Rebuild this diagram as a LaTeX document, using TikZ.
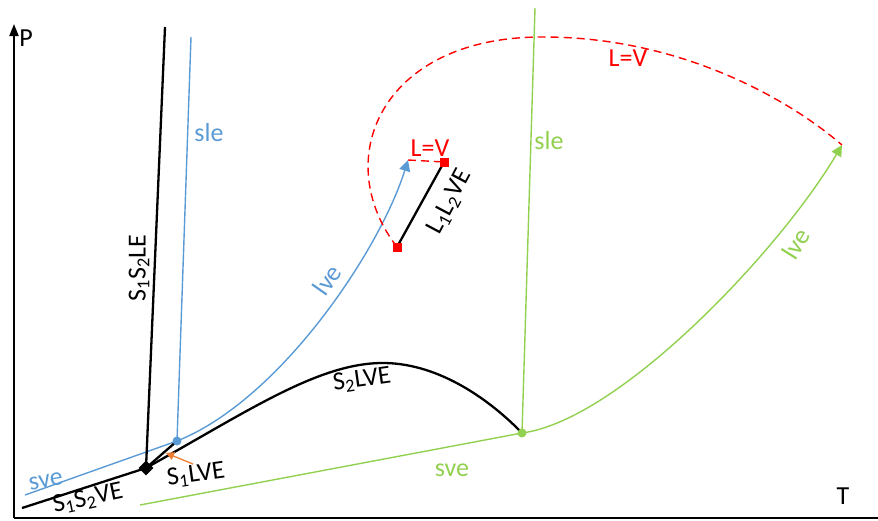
\documentclass[tikz,border=0pt]{standalone}
\usepackage{fontspec}
\setmainfont{Carlito}
\usetikzlibrary{arrows.meta,shapes.geometric}
\definecolor{cblue}{HTML}{5B9BD5}
\definecolor{cgreen}{HTML}{92D050}
\definecolor{cred}{HTML}{FF0000}
\definecolor{corange}{HTML}{ED7D31}
\newcommand{\sbs}[1]{\textsubscript{#1}}
\begin{document}
\begin{tikzpicture}[x=1pt,y=-1pt,
  lbl/.style={font=\fontsize{26}{30}\selectfont, inner sep=1pt},
  blk/.style={black, line width=2.3pt},
  bl/.style={cblue, line width=1.4pt},
  gr/.style={cgreen, line width=1.4pt},
  rd/.style={cred, line width=1.4pt, dash pattern=on 8pt off 5pt},
  tri/.style={-{Triangle[length=11pt,width=11pt]}},
  dot/.style={circle, inner sep=0pt, minimum size=9pt},
  sq/.style={rectangle, fill=cred, inner sep=0pt, minimum size=9pt}]
\useasboundingbox (0,0) rectangle (878,520);
% coordinates
\coordinate (tpc) at (146,468);
\coordinate (bdc) at (177,441);
\coordinate (gdc) at (522,433);
\coordinate (r1c) at (444,162);
\coordinate (r2c) at (397,247);
\coordinate (btip) at (408,160);
\coordinate (gtip) at (842,145);
% axes
\coordinate (O) at (14,518);
\coordinate (Ptop) at (14,24);
\coordinate (Tend) at (878,518);
\draw[line width=2pt, -{Triangle[length=12pt,width=9pt]}] (O) -- (Ptop);
\draw[line width=2pt] (O) -- (Tend);
\node[lbl] (P) at (26,38) {P};
\node[lbl] (T) at (843,496) {T};
% blue
\coordinate (bsle) at (191,37);
\coordinate (bsve) at (25,495);
\draw[bl] (bsle) -- (bdc);
\draw[bl] (bsve) -- (bdc);
\draw[bl, tri] (bdc) .. controls (280,400) and (380,250) .. (btip);
% green
\coordinate (gsle) at (535,8);
\coordinate (gsve) at (140,505);
\draw[gr] (gsle) -- (gdc);
\draw[gr] (gsve) -- (gdc);
\draw[gr, tri] (gdc) .. controls (620,420) and (780,250) .. (gtip);
% black
\coordinate (s12le) at (165,27);
\coordinate (s12ve) at (22,508);
\draw[blk] (s12le) -- (tpc);
\draw[blk] (s12ve) -- (tpc);
\draw[blk] (tpc) -- (bdc);
\draw[blk] (tpc) .. controls (250,410) and (320,362) .. (385,363) .. controls (440,364) and (490,400) .. (gdc);
\draw[blk] (r2c) -- (r1c);
% red
\draw[rd] (btip) -- (r1c);
\draw[rd] (r2c) .. controls (330,160) and (380,38) .. (540,37) .. controls (680,36) and (790,100) .. (gtip);
% key points (on top)
\node[diamond, fill=black, inner sep=0pt, minimum size=15pt] (tp) at (tpc) {};
\node[dot, fill=cblue] (bd) at (bdc) {};
\node[dot, fill=cgreen] (gd) at (gdc) {};
\node[sq] (r1) at (r1c) {};
\node[sq] (r2) at (r2c) {};
% orange
\coordinate (oa) at (193,464);
\coordinate (ob) at (166,453);
\draw[corange, line width=1.3pt, -{Triangle[length=8pt,width=8pt]}] (oa) -- (ob);
% labels
\node[lbl, rotate=90] (l1) at (139,268) {S\sbs{1}S\sbs{2}LE};
\node[lbl, cblue] (l2) at (209,133) {sle};
\node[lbl, cblue, rotate=55] (l3) at (327,280) {lve};
\node[lbl, cblue, rotate=10] (l4) at (46,481) {sve};
\node[lbl, rotate=12] (l5) at (88,499) {S\sbs{1}S\sbs{2}VE};
\node[lbl, rotate=8] (l6) at (196,475) {S\sbs{1}LVE};
\node[lbl, rotate=8] (l7) at (362,380) {S\sbs{2}LVE};
\node[lbl, rotate=62] (l8) at (450,202) {L\sbs{1}L\sbs{2}VE};
\node[lbl, cred] (l9) at (430,148) {L=V};
\node[lbl, cred] (l10) at (628,58) {L=V};
\node[lbl, cgreen] (l11) at (549,141) {sle};
\node[lbl, cgreen] (l12) at (452,470) {sve};
\node[lbl, cgreen, rotate=58] (l13) at (796,244) {lve};
\end{tikzpicture}
\end{document}
